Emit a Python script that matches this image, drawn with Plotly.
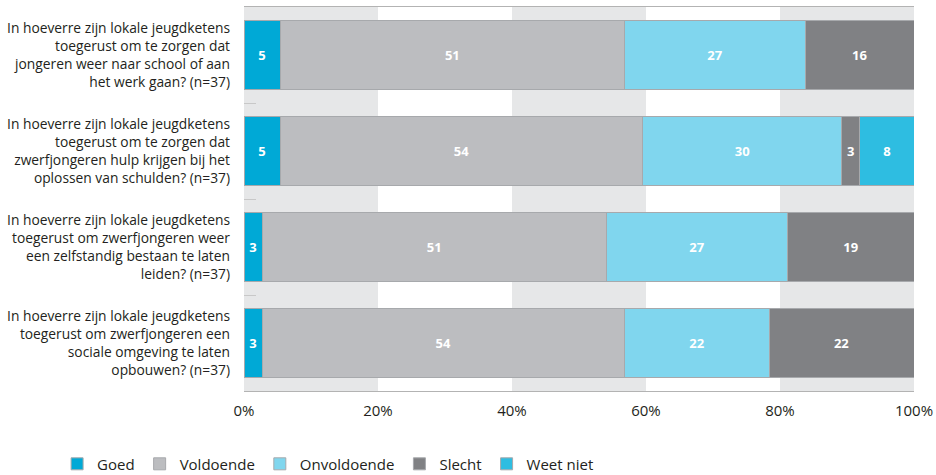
import plotly.graph_objects as go

categories = [
    "In hoeverre zijn lokale jeugdketens<br>toegerust om te zorgen dat<br>jongeren weer naar school of aan<br>het werk gaan? (n=37)",
    "In hoeverre zijn lokale jeugdketens<br>toegerust om te zorgen dat<br>zwerfjongeren hulp krijgen bij het<br>oplossen van schulden? (n=37)",
    "In hoeverre zijn lokale jeugdketens<br>toegerust om zwerfjongeren weer<br>een zelfstandig bestaan te laten<br>leiden? (n=37)",
    "In hoeverre zijn lokale jeugdketens<br>toegerust om zwerfjongeren een<br>sociale omgeving te laten<br>opbouwen? (n=37)",
]
series_names = ["Goed", "Voldoende", "Onvoldoende", "Slecht", "Weet niet"]
goed = [5.4, 5.4, 2.7, 2.7]
voldoende = [51.4, 54.1, 51.4, 54.1]
onvoldoende = [27.0, 29.7, 27.0, 21.6]
slecht = [16.2, 2.7, 18.9, 21.6]
weet_niet = [0, 8.1, 0, 0]
series_values = [goed, voldoende, onvoldoende, slecht, weet_niet]
colors = ["#00a9d6", "#bcbdc0", "#80d6ee", "#808184", "#2ebde1"]
x_tickvals = [0, 20, 40, 60, 80, 100]
x_ticktext = ["0%", "20%", "40%", "60%", "80%", "100%"]

FONT = "Open Sans"
fig = go.Figure()
for name, vals, col in zip(series_names, series_values, colors):
    fig.add_trace(go.Bar(
        y=categories, x=vals, name=name, orientation="h",
        marker=dict(color=col, line=dict(color="#a7a9ac", width=1)),
        text=[f"{v:.0f}" if v > 0 else "" for v in vals],
        textposition="inside", insidetextanchor="middle", textangle=0,
        constraintext="none",
        textfont=dict(color="white", size=13, family=FONT, weight="bold"),
        hoverinfo="x+name",
    ))

# alternating background bands
for i in range(0, 100, 40):
    fig.add_shape(type="rect", xref="x", yref="paper", x0=i, x1=i + 20, y0=0, y1=1,
                  fillcolor="#e6e7e8", line=dict(width=0), layer="below")
fig.add_shape(type="rect", xref="x", yref="paper", x0=80, x1=100, y0=0, y1=1,
              fillcolor="#e6e7e8", line=dict(width=0), layer="below")

fig.update_layout(
    barmode="stack", bargap=0.29,
    width=936, height=475,
    margin=dict(l=244, r=22, t=7, b=84),
    paper_bgcolor="white", plot_bgcolor="white",
    font=dict(family=FONT, color="#231f20"),
    showlegend=True,
    legend=dict(orientation="h", xref="container", yref="container",
                x=0.061, y=0.023, xanchor="left", yanchor="middle",
                font=dict(size=15, family=FONT, color="#231f20"),
                traceorder="normal"),
    xaxis=dict(range=[0, 100], tickvals=x_tickvals, ticktext=x_ticktext,
               showgrid=False, zeroline=False, showline=True, mirror=True,
               linecolor="#b3b3b3", linewidth=1, ticks="", automargin=False,
               ticklabelstandoff=6,
               tickfont=dict(size=15, family=FONT, color="#231f20")),
    yaxis=dict(autorange="reversed", showgrid=False, zeroline=False,
               ticks="inside", tickson="boundaries", ticklen=12,
               tickcolor="#c8c8c8", ticklabelstandoff=13, automargin=False,
               tickfont=dict(size=13.8, family=FONT, color="#231f20")),
)

fig.write_html("out.html", config={"displayModeBar": False},
               post_script="document.body.style.margin='0';document.body.style.overflow='hidden';")
